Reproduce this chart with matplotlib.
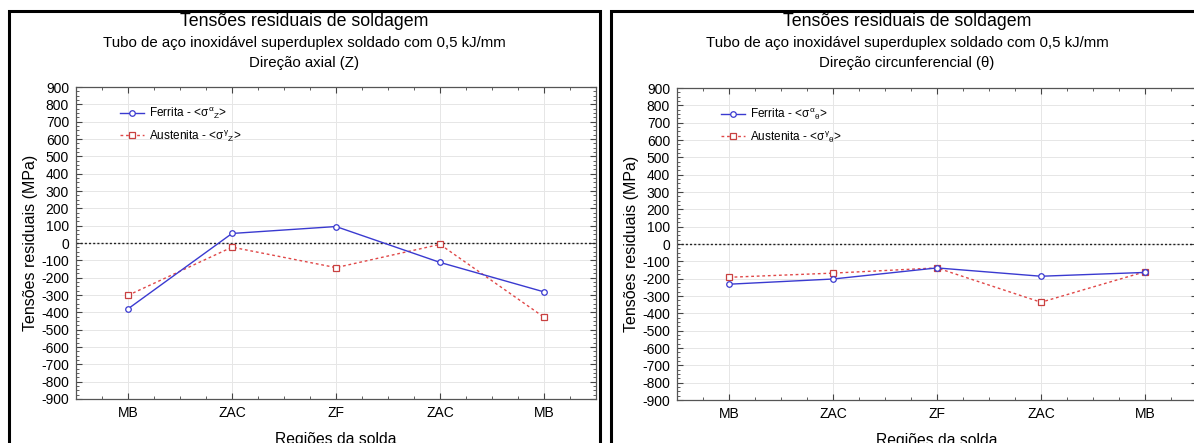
import numpy as np
import matplotlib.pyplot as plt
from matplotlib.patches import Rectangle
from matplotlib.ticker import MultipleLocator

plt.rcParams['font.family'] = ['Liberation Sans', 'DejaVu Sans']
plt.rcParams['mathtext.fontset'] = 'custom'
plt.rcParams['mathtext.rm'] = 'Liberation Sans'
plt.rcParams['mathtext.it'] = 'Liberation Sans'
plt.rcParams['axes.unicode_minus'] = False

# data
regioes = ["MB", "ZAC", "ZF", "ZAC", "MB"]
ferrita_axial = [-380, 55, 95, -112, -282]
austenita_axial = [-302, -24, -142, -8, -428]
ferrita_circ = [-232, -202, -138, -186, -164]
austenita_circ = [-192, -168, -138, -336, -160]

titulo = "Tensões residuais de soldagem"
subtitulo = "Tubo de aço inoxidável superduplex soldado com 0,5 kJ/mm"
direcoes = ["Direção axial (Z)", "Direção circunferencial (θ)"]
leg_ferrita = [r"Ferrita - <$\sigma^{\alpha}{}_{Z}$>", r"Ferrita - <$\sigma^{\alpha}{}_{\theta}$>"]
leg_austenita = [r"Austenita - <$\sigma^{\gamma}{}_{Z}$>", r"Austenita - <$\sigma^{\gamma}{}_{\theta}$>"]

W, H = 1194, 443
fig = plt.figure(figsize=(W / 100, H / 100), dpi=100)

# panel frames and axes boxes (pixels)
frames = [(9, 11, 591, 440), (611, 11, 600, 440)]
boxes = [(76, 87, 520, 312), (677, 88, 520, 312)]
series = [(ferrita_axial, austenita_axial), (ferrita_circ, austenita_circ)]

x = np.arange(len(regioes))
for i in range(2):
    fx, fy, fw, fh = frames[i]
    fig.patches.append(Rectangle((fx / W, 1 - (fy + fh) / H), fw / W, fh / H,
                                 transform=fig.transFigure, fill=False,
                                 edgecolor='black', linewidth=2.2))
    bx, by, bw, bh = boxes[i]
    ax = fig.add_axes([bx / W, 1 - (by + bh) / H, bw / W, bh / H])
    fer, aus = series[i]

    ax.axhline(0, color='#222222', linestyle=(0, (1.5, 1.5)), linewidth=1.0, zorder=2)
    ax.plot(x, fer, color='#3a3ad0', linewidth=1.0, marker='o', markersize=4,
            markerfacecolor='white', markeredgecolor='#3a3ad0', markeredgewidth=0.9,
            label=leg_ferrita[i], zorder=4)
    ax.plot(x, aus, color='#e04848', linewidth=1.0, linestyle=(0, (2, 2)), marker='s',
            markersize=4.5, markerfacecolor='white', markeredgecolor='#c84040',
            markeredgewidth=0.9, label=leg_austenita[i], zorder=3)

    ax.set_xlim(-0.5, 4.5)
    ax.set_ylim(-900, 900)
    ax.set_xticks(x)
    ax.set_xticklabels(regioes)
    ax.set_yticks(np.arange(-900, 901, 100))
    ax.xaxis.set_minor_locator(MultipleLocator(0.25))
    ax.yaxis.set_minor_locator(MultipleLocator(25))
    ax.tick_params(axis='both', which='both', direction='in', top=True, right=True,
                   labelsize=10, color='#444444', pad=5)
    ax.tick_params(which='major', length=4)
    ax.tick_params(which='minor', length=2)
    ax.grid(True, which='major', color='#e6e6e6', linewidth=0.7)
    for s in ax.spines.values():
        s.set_color('#555555')
        s.set_linewidth(0.9)

    ax.set_ylabel("Tensões residuais (MPa)", fontsize=11.5, labelpad=2)
    ax.set_xlabel("Regiões da solda", fontsize=11.3, labelpad=9)

    ax.legend(loc='upper left', bbox_to_anchor=(0.065, 0.975), frameon=False,
              fontsize=8.5, handlelength=2.0, handletextpad=0.4, labelspacing=0.55)

    cx = (fx + fw / 2) / W if i == 0 else (fx + 296) / W
    fig.text(cx, 1 - 21 / H, titulo, ha='center', va='center', fontsize=12.8)
    fig.text(cx, 1 - 43 / H, subtitulo, ha='center', va='center', fontsize=10.8)
    fig.text(cx, 1 - 63 / H, direcoes[i], ha='center', va='center', fontsize=10.8)

fig.savefig("out.png", dpi=100, facecolor='white')
